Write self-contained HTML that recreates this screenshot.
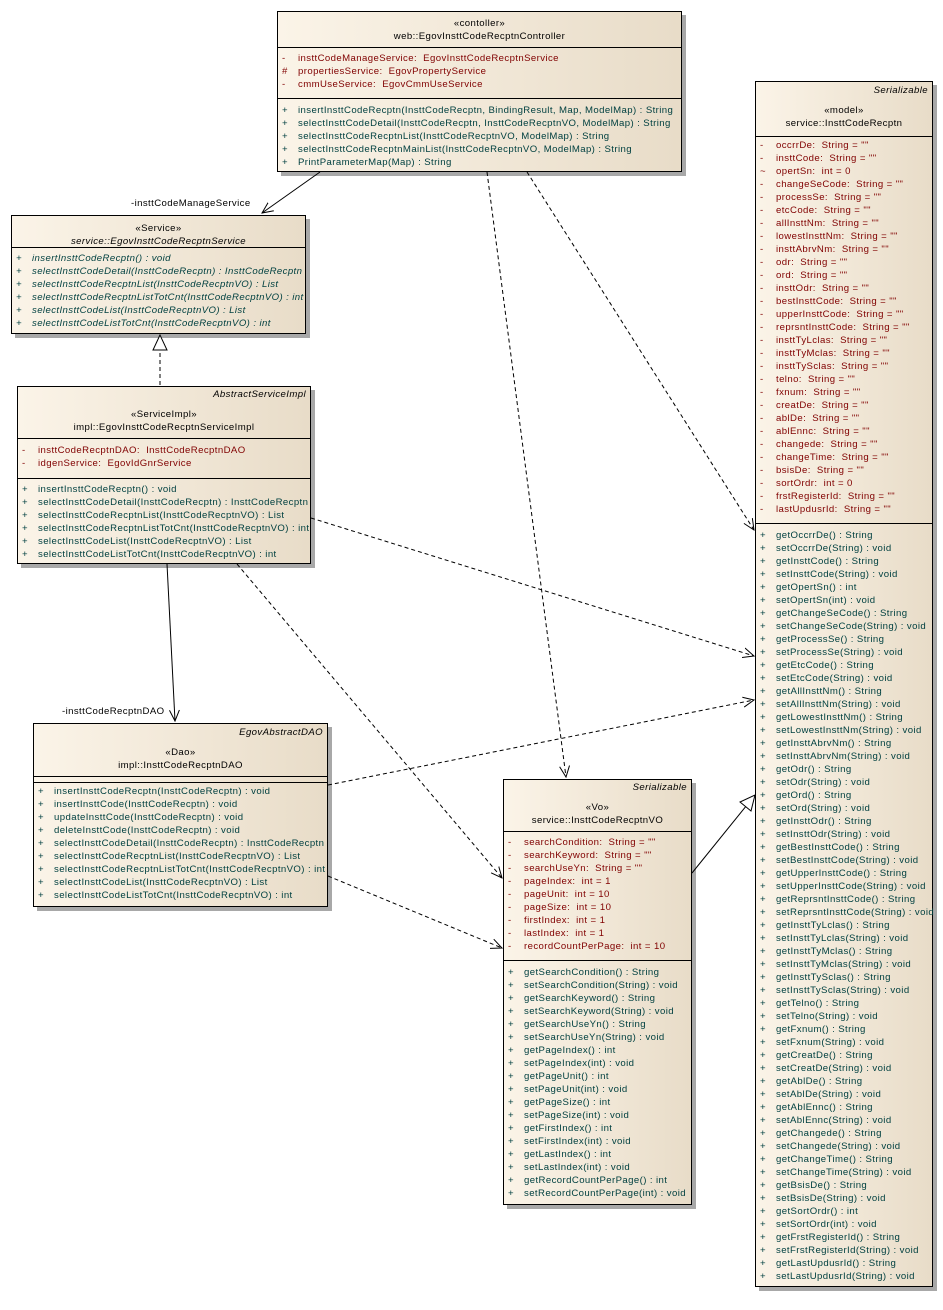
<!DOCTYPE html>
<html><head><meta charset="utf-8">
<style>
body{margin:0;width:943px;height:1310px;background:#fff;position:relative;font-family:"Liberation Sans",sans-serif;font-size:9.6px;color:#000;overflow:hidden;letter-spacing:0.4px}
.box{position:absolute;border:1px solid #000;background:linear-gradient(to right,#fbf4e8,#e8dcc8);box-shadow:4px 4px 0 #a8a8a8;box-sizing:border-box}
.hd{text-align:center;border-bottom:1px solid #000;box-sizing:border-box}
.c{border-bottom:1px solid #000;box-sizing:border-box}
.c:last-child{border-bottom:none}
.r{height:13px;line-height:13px;white-space:pre;position:relative;padding-left:20px}
.r b{position:absolute;left:4px;font-weight:normal}
.t{height:13px;line-height:13px;white-space:nowrap}
.a .r{color:#800000}
.o .r{color:#004040}
.it{font-style:italic}
.rt{text-align:right;padding-right:4px;font-style:italic}
.lbl{position:absolute;font-size:9.6px;white-space:nowrap}
svg{position:absolute;left:0;top:0}
</style></head><body>

<!-- Controller -->
<div class="box" style="left:277px;top:11px;width:405px;height:161px">
 <div class="hd" style="height:36px;padding-top:5px"><div class="t">«contoller»</div><div class="t">web::EgovInsttCodeRecptnController</div></div>
 <div class="c a" style="height:51px;padding-top:3.5px">
  <div class="r"><b>-</b>insttCodeManageService:  EgovInsttCodeRecptnService</div>
  <div class="r"><b>#</b>propertiesService:  EgovPropertyService</div>
  <div class="r"><b>-</b>cmmUseService:  EgovCmmUseService</div>
 </div>
 <div class="c o" style="padding-top:4.5px">
  <div class="r"><b>+</b>insertInsttCodeRecptn(InsttCodeRecptn, BindingResult, Map, ModelMap) : String</div>
  <div class="r"><b>+</b>selectInsttCodeDetail(InsttCodeRecptn, InsttCodeRecptnVO, ModelMap) : String</div>
  <div class="r"><b>+</b>selectInsttCodeRecptnList(InsttCodeRecptnVO, ModelMap) : String</div>
  <div class="r"><b>+</b>selectInsttCodeRecptnMainList(InsttCodeRecptnVO, ModelMap) : String</div>
  <div class="r"><b>+</b>PrintParameterMap(Map) : String</div>
 </div>
</div>

<!-- Service -->
<div class="box" style="left:11px;top:215px;width:295px;height:119px">
 <div class="hd" style="height:32px;padding-top:6px"><div class="t">«Service»</div><div class="t it">service::EgovInsttCodeRecptnService</div></div>
 <div class="c o it" style="padding-top:4px">
  <div class="r"><b>+</b>insertInsttCodeRecptn() : void</div>
  <div class="r"><b>+</b>selectInsttCodeDetail(InsttCodeRecptn) : InsttCodeRecptn</div>
  <div class="r"><b>+</b>selectInsttCodeRecptnList(InsttCodeRecptnVO) : List</div>
  <div class="r"><b>+</b>selectInsttCodeRecptnListTotCnt(InsttCodeRecptnVO) : int</div>
  <div class="r"><b>+</b>selectInsttCodeList(InsttCodeRecptnVO) : List</div>
  <div class="r"><b>+</b>selectInsttCodeListTotCnt(InsttCodeRecptnVO) : int</div>
 </div>
</div>

<!-- ServiceImpl -->
<div class="box" style="left:17px;top:386px;width:294px;height:178px">
 <div class="hd" style="height:52px;padding-top:1px"><div class="t rt">AbstractServiceImpl</div><div style="height:7px"></div><div class="t">«ServiceImpl»</div><div class="t">impl::EgovInsttCodeRecptnServiceImpl</div></div>
 <div class="c a" style="height:40px;padding-top:4.5px">
  <div class="r"><b>-</b>insttCodeRecptnDAO:  InsttCodeRecptnDAO</div>
  <div class="r"><b>-</b>idgenService:  EgovIdGnrService</div>
 </div>
 <div class="c o" style="padding-top:3.5px">
  <div class="r"><b>+</b>insertInsttCodeRecptn() : void</div>
  <div class="r"><b>+</b>selectInsttCodeDetail(InsttCodeRecptn) : InsttCodeRecptn</div>
  <div class="r"><b>+</b>selectInsttCodeRecptnList(InsttCodeRecptnVO) : List</div>
  <div class="r"><b>+</b>selectInsttCodeRecptnListTotCnt(InsttCodeRecptnVO) : int</div>
  <div class="r"><b>+</b>selectInsttCodeList(InsttCodeRecptnVO) : List</div>
  <div class="r"><b>+</b>selectInsttCodeListTotCnt(InsttCodeRecptnVO) : int</div>
 </div>
</div>

<!-- DAO -->
<div class="box" style="left:33px;top:723px;width:295px;height:184px">
 <div class="hd" style="height:53px;padding-top:2px"><div class="t rt">EgovAbstractDAO</div><div style="height:7px"></div><div class="t">«Dao»</div><div class="t">impl::InsttCodeRecptnDAO</div></div>
 <div class="c" style="height:6px"></div>
 <div class="c o" style="padding-top:1.5px">
  <div class="r"><b>+</b>insertInsttCodeRecptn(InsttCodeRecptn) : void</div>
  <div class="r"><b>+</b>insertInsttCode(InsttCodeRecptn) : void</div>
  <div class="r"><b>+</b>updateInsttCode(InsttCodeRecptn) : void</div>
  <div class="r"><b>+</b>deleteInsttCode(InsttCodeRecptn) : void</div>
  <div class="r"><b>+</b>selectInsttCodeDetail(InsttCodeRecptn) : InsttCodeRecptn</div>
  <div class="r"><b>+</b>selectInsttCodeRecptnList(InsttCodeRecptnVO) : List</div>
  <div class="r"><b>+</b>selectInsttCodeRecptnListTotCnt(InsttCodeRecptnVO) : int</div>
  <div class="r"><b>+</b>selectInsttCodeList(InsttCodeRecptnVO) : List</div>
  <div class="r"><b>+</b>selectInsttCodeListTotCnt(InsttCodeRecptnVO) : int</div>
 </div>
</div>

<!-- VO -->
<div class="box" style="left:503px;top:779px;width:189px;height:426px">
 <div class="hd" style="height:52px;padding-top:1px"><div class="t rt">Serializable</div><div style="height:7px"></div><div class="t">«Vo»</div><div class="t">service::InsttCodeRecptnVO</div></div>
 <div class="c a" style="height:129px;padding-top:3.5px">
  <div class="r"><b>-</b>searchCondition:  String = ""</div>
  <div class="r"><b>-</b>searchKeyword:  String = ""</div>
  <div class="r"><b>-</b>searchUseYn:  String = ""</div>
  <div class="r"><b>-</b>pageIndex:  int = 1</div>
  <div class="r"><b>-</b>pageUnit:  int = 10</div>
  <div class="r"><b>-</b>pageSize:  int = 10</div>
  <div class="r"><b>-</b>firstIndex:  int = 1</div>
  <div class="r"><b>-</b>lastIndex:  int = 1</div>
  <div class="r"><b>-</b>recordCountPerPage:  int = 10</div>
 </div>
 <div class="c o" style="padding-top:4.5px">
  <div class="r"><b>+</b>getSearchCondition() : String</div>
  <div class="r"><b>+</b>setSearchCondition(String) : void</div>
  <div class="r"><b>+</b>getSearchKeyword() : String</div>
  <div class="r"><b>+</b>setSearchKeyword(String) : void</div>
  <div class="r"><b>+</b>getSearchUseYn() : String</div>
  <div class="r"><b>+</b>setSearchUseYn(String) : void</div>
  <div class="r"><b>+</b>getPageIndex() : int</div>
  <div class="r"><b>+</b>setPageIndex(int) : void</div>
  <div class="r"><b>+</b>getPageUnit() : int</div>
  <div class="r"><b>+</b>setPageUnit(int) : void</div>
  <div class="r"><b>+</b>getPageSize() : int</div>
  <div class="r"><b>+</b>setPageSize(int) : void</div>
  <div class="r"><b>+</b>getFirstIndex() : int</div>
  <div class="r"><b>+</b>setFirstIndex(int) : void</div>
  <div class="r"><b>+</b>getLastIndex() : int</div>
  <div class="r"><b>+</b>setLastIndex(int) : void</div>
  <div class="r"><b>+</b>getRecordCountPerPage() : int</div>
  <div class="r"><b>+</b>setRecordCountPerPage(int) : void</div>
 </div>
</div>

<!-- Model -->
<div class="box" style="left:755px;top:81px;width:178px;height:1206px">
 <div class="hd" style="height:55px;padding-top:2px"><div class="t rt">Serializable</div><div style="height:7px"></div><div class="t">«model»</div><div class="t">service::InsttCodeRecptn</div></div>
 <div class="c a" style="height:387px;padding-top:1.5px">
  <div class="r"><b>-</b>occrrDe:  String = ""</div>
  <div class="r"><b>-</b>insttCode:  String = ""</div>
  <div class="r"><b>~</b>opertSn:  int = 0</div>
  <div class="r"><b>-</b>changeSeCode:  String = ""</div>
  <div class="r"><b>-</b>processSe:  String = ""</div>
  <div class="r"><b>-</b>etcCode:  String = ""</div>
  <div class="r"><b>-</b>allInsttNm:  String = ""</div>
  <div class="r"><b>-</b>lowestInsttNm:  String = ""</div>
  <div class="r"><b>-</b>insttAbrvNm:  String = ""</div>
  <div class="r"><b>-</b>odr:  String = ""</div>
  <div class="r"><b>-</b>ord:  String = ""</div>
  <div class="r"><b>-</b>insttOdr:  String = ""</div>
  <div class="r"><b>-</b>bestInsttCode:  String = ""</div>
  <div class="r"><b>-</b>upperInsttCode:  String = ""</div>
  <div class="r"><b>-</b>reprsntInsttCode:  String = ""</div>
  <div class="r"><b>-</b>insttTyLclas:  String = ""</div>
  <div class="r"><b>-</b>insttTyMclas:  String = ""</div>
  <div class="r"><b>-</b>insttTySclas:  String = ""</div>
  <div class="r"><b>-</b>telno:  String = ""</div>
  <div class="r"><b>-</b>fxnum:  String = ""</div>
  <div class="r"><b>-</b>creatDe:  String = ""</div>
  <div class="r"><b>-</b>ablDe:  String = ""</div>
  <div class="r"><b>-</b>ablEnnc:  String = ""</div>
  <div class="r"><b>-</b>changede:  String = ""</div>
  <div class="r"><b>-</b>changeTime:  String = ""</div>
  <div class="r"><b>-</b>bsisDe:  String = ""</div>
  <div class="r"><b>-</b>sortOrdr:  int = 0</div>
  <div class="r"><b>-</b>frstRegisterId:  String = ""</div>
  <div class="r"><b>-</b>lastUpdusrId:  String = ""</div>
 </div>
 <div class="c o" style="padding-top:4.5px">
  <div class="r"><b>+</b>getOccrrDe() : String</div>
  <div class="r"><b>+</b>setOccrrDe(String) : void</div>
  <div class="r"><b>+</b>getInsttCode() : String</div>
  <div class="r"><b>+</b>setInsttCode(String) : void</div>
  <div class="r"><b>+</b>getOpertSn() : int</div>
  <div class="r"><b>+</b>setOpertSn(int) : void</div>
  <div class="r"><b>+</b>getChangeSeCode() : String</div>
  <div class="r"><b>+</b>setChangeSeCode(String) : void</div>
  <div class="r"><b>+</b>getProcessSe() : String</div>
  <div class="r"><b>+</b>setProcessSe(String) : void</div>
  <div class="r"><b>+</b>getEtcCode() : String</div>
  <div class="r"><b>+</b>setEtcCode(String) : void</div>
  <div class="r"><b>+</b>getAllInsttNm() : String</div>
  <div class="r"><b>+</b>setAllInsttNm(String) : void</div>
  <div class="r"><b>+</b>getLowestInsttNm() : String</div>
  <div class="r"><b>+</b>setLowestInsttNm(String) : void</div>
  <div class="r"><b>+</b>getInsttAbrvNm() : String</div>
  <div class="r"><b>+</b>setInsttAbrvNm(String) : void</div>
  <div class="r"><b>+</b>getOdr() : String</div>
  <div class="r"><b>+</b>setOdr(String) : void</div>
  <div class="r"><b>+</b>getOrd() : String</div>
  <div class="r"><b>+</b>setOrd(String) : void</div>
  <div class="r"><b>+</b>getInsttOdr() : String</div>
  <div class="r"><b>+</b>setInsttOdr(String) : void</div>
  <div class="r"><b>+</b>getBestInsttCode() : String</div>
  <div class="r"><b>+</b>setBestInsttCode(String) : void</div>
  <div class="r"><b>+</b>getUpperInsttCode() : String</div>
  <div class="r"><b>+</b>setUpperInsttCode(String) : void</div>
  <div class="r"><b>+</b>getReprsntInsttCode() : String</div>
  <div class="r"><b>+</b>setReprsntInsttCode(String) : void</div>
  <div class="r"><b>+</b>getInsttTyLclas() : String</div>
  <div class="r"><b>+</b>setInsttTyLclas(String) : void</div>
  <div class="r"><b>+</b>getInsttTyMclas() : String</div>
  <div class="r"><b>+</b>setInsttTyMclas(String) : void</div>
  <div class="r"><b>+</b>getInsttTySclas() : String</div>
  <div class="r"><b>+</b>setInsttTySclas(String) : void</div>
  <div class="r"><b>+</b>getTelno() : String</div>
  <div class="r"><b>+</b>setTelno(String) : void</div>
  <div class="r"><b>+</b>getFxnum() : String</div>
  <div class="r"><b>+</b>setFxnum(String) : void</div>
  <div class="r"><b>+</b>getCreatDe() : String</div>
  <div class="r"><b>+</b>setCreatDe(String) : void</div>
  <div class="r"><b>+</b>getAblDe() : String</div>
  <div class="r"><b>+</b>setAblDe(String) : void</div>
  <div class="r"><b>+</b>getAblEnnc() : String</div>
  <div class="r"><b>+</b>setAblEnnc(String) : void</div>
  <div class="r"><b>+</b>getChangede() : String</div>
  <div class="r"><b>+</b>setChangede(String) : void</div>
  <div class="r"><b>+</b>getChangeTime() : String</div>
  <div class="r"><b>+</b>setChangeTime(String) : void</div>
  <div class="r"><b>+</b>getBsisDe() : String</div>
  <div class="r"><b>+</b>setBsisDe(String) : void</div>
  <div class="r"><b>+</b>getSortOrdr() : int</div>
  <div class="r"><b>+</b>setSortOrdr(int) : void</div>
  <div class="r"><b>+</b>getFrstRegisterId() : String</div>
  <div class="r"><b>+</b>setFrstRegisterId(String) : void</div>
  <div class="r"><b>+</b>getLastUpdusrId() : String</div>
  <div class="r"><b>+</b>setLastUpdusrId(String) : void</div>
 </div>
</div>

<div class="lbl" style="left:131px;top:198px">-insttCodeManageService</div>
<div class="lbl" style="left:62px;top:706px">-insttCodeRecptnDAO</div>

<svg width="943" height="1310" viewBox="0 0 943 1310">
 <defs>
  <marker id="op" markerWidth="12" markerHeight="12" refX="11" refY="6" orient="auto" markerUnits="userSpaceOnUse">
   <path d="M0,1 L11,6 L0,11" fill="none" stroke="#000" stroke-width="1"/>
  </marker>
 </defs>
 <g stroke="#000" stroke-width="1" fill="none">
  <line x1="320" y1="172" x2="262" y2="213" marker-end="url(#op)"/>
  <line x1="167" y1="564" x2="175" y2="721" marker-end="url(#op)"/>
  <g stroke-dasharray="4,3">
   <line x1="160" y1="385" x2="160" y2="350"/>
   <line x1="487" y1="172" x2="566" y2="777" marker-end="url(#op)"/>
   <line x1="527" y1="172" x2="754" y2="530" marker-end="url(#op)"/>
   <line x1="311" y1="518" x2="754" y2="656" marker-end="url(#op)"/>
   <line x1="237" y1="564" x2="502" y2="878" marker-end="url(#op)"/>
   <line x1="328" y1="785" x2="754" y2="700" marker-end="url(#op)"/>
   <line x1="328" y1="876" x2="502" y2="948" marker-end="url(#op)"/>
  </g>
  <line x1="692" y1="873" x2="745.6" y2="806.7"/>
 </g>
 <path d="M160,335 L153,350 L167,350 Z" fill="#fff" stroke="#000"/>
 <path d="M755,795 L751,811 L740,802 Z" fill="#fff" stroke="#000"/>
</svg>
</body></html>
